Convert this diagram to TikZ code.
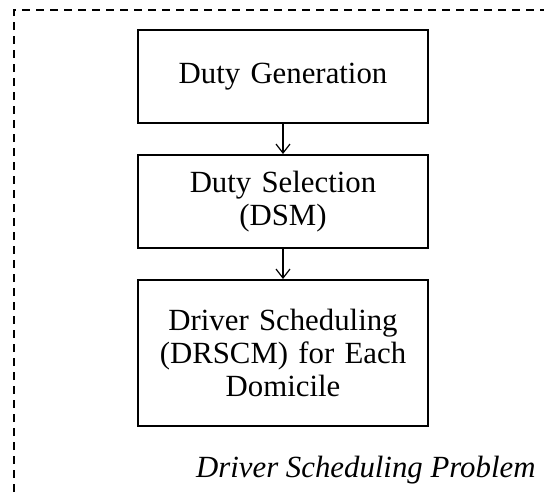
\documentclass[tikz,border=0pt]{standalone}
\usepackage{fontspec}
\setmainfont{Liberation Serif}
\usetikzlibrary{positioning,arrows.meta}
\tikzset{
  block/.style={draw, line width=2pt, minimum width=290pt, text width=270pt, align=center, inner sep=0pt, font=\fontsize{30.8}{33}\selectfont},
  flow/.style={line width=1.2pt, -{Straight Barb[length=9pt,width=14pt]}}
}
\begin{document}
\begin{tikzpicture}[x=1pt, y=-1pt, node distance=30pt]
\useasboundingbox (0,0) rectangle (544,493);
\clip (0,0) rectangle (544,493);
% outer dashed frame
\draw[line width=2pt, dash pattern=on 8pt off 6pt] (14,520) -- (14,10) -- (560,10);
\node[block, minimum height=93pt] (gen) at (283,76.5) {Duty Generation};
\node[block, minimum height=93pt, below=of gen] (sel) {Duty Selection\\(DSM)};
\node[block, minimum height=146pt, below=of sel] (sched) {Driver Scheduling\\(DRSCM) for Each\\Domicile};
\draw[flow] (gen) -- (sel);
\draw[flow] (sel) -- (sched);
\node[anchor=base east, font=\fontsize{30.8}{33}\selectfont\itshape] (title) at (539,477) {Driver Scheduling Problem};
\end{tikzpicture}
\end{document}
